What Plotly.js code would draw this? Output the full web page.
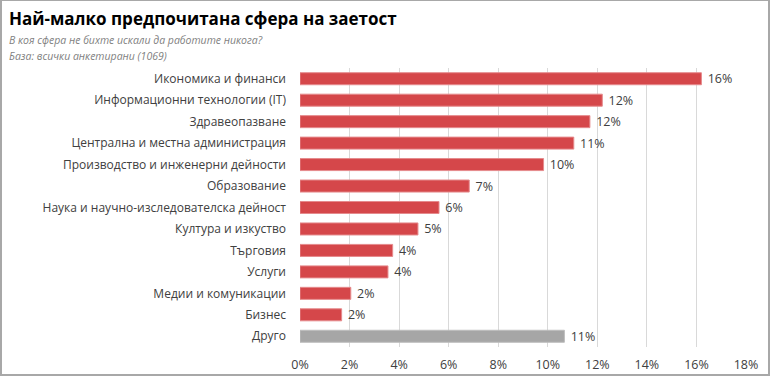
<!DOCTYPE html>
<html>
<head>
<meta charset="utf-8">
<script src="https://cdn.plot.ly/plotly-3.0.1.min.js"></script>
<style>
html,body{margin:0;padding:0;background:#fff;}
#wrap{position:relative;width:770px;height:376px;}
#chart{width:770px;height:376px;}
#frame{position:absolute;left:0;top:0;width:770px;height:376px;box-sizing:border-box;border:2px solid #a8a8a8;border-top-width:1px;pointer-events:none;}
</style>
</head>
<body>
<div id="wrap"><div id="chart"></div><div id="frame"></div></div>
<script>
const categories = [
  "Икономика и финанси",
  "Информационни технологии (IT)",
  "Здравеопазване",
  "Централна и местна администрация",
  "Производство и инженерни дейности",
  "Образование",
  "Наука и научно-изследователска дейност",
  "Култура и изкуство",
  "Търговия",
  "Услуги",
  "Медии и комуникации",
  "Бизнес",
  "Друго"
];
const values = [16.2, 12.2, 11.7, 11.05, 9.83, 6.83, 5.61, 4.76, 3.74, 3.55, 2.05, 1.68, 10.67];
const isOther = [false,false,false,false,false,false,false,false,false,false,false,false,true];
const xTickVals = [0,2,4,6,8,10,12,14,16,18];
const xTickText = ["0%","2%","4%","6%","8%","10%","12%","14%","16%","18%"];
const titleText = "Най-малко предпочитана сфера на заетост";
const subtitleLines = ["В коя сфера не бихте искали да работите никога?", "База: всички анкетирани (1069)"];

const W = 770, H = 376;
const M = {l: 300, r: 24, t: 68, b: 29};
const plotW = W - M.l - M.r, plotH = H - M.t - M.b;
const font = "Open Sans, Noto Sans, sans-serif";

const fill = isOther.map(o => o ? "#a6a6a6" : "#d5474a");
const edge = isOther.map(o => o ? "#bdbdbd" : "#e58a8c");

const trace = {
  type: "bar",
  orientation: "h",
  y: categories,
  x: values,
  marker: {color: fill, line: {color: edge, width: 1}},
  text: values.map(v => Math.round(v) + "%"),
  texttemplate: " %{text}",
  textposition: "outside",
  constraintext: "none",
  cliponaxis: false,
  textfont: {family: font, size: 12.5, color: "#404040"},
  hoverinfo: "skip"
};

const px2paperX = px => (px - M.l) / plotW;
const px2paperY = py => 1 - (py - M.t) / plotH;

const annotations = [{
  text: "<b>" + titleText + "</b>",
  xref: "paper", yref: "paper",
  x: px2paperX(7), xanchor: "left",
  y: px2paperY(18), yanchor: "middle",
  showarrow: false,
  font: {family: font, size: 17, color: "#000"}
}].concat(subtitleLines.map((t, i) => ({
  text: "<i>" + t + "</i>",
  xref: "paper", yref: "paper",
  x: px2paperX(7), xanchor: "left",
  y: px2paperY(40 + i * 16), yanchor: "middle",
  showarrow: false,
  font: {family: font, size: 10.5, color: "#7f7f7f"}
})));

const layout = {
  width: W, height: H,
  margin: M,
  paper_bgcolor: "#fff",
  plot_bgcolor: "#fff",
  showlegend: false,
  bargap: 0.44,
  font: {family: font, color: "#404040"},
  annotations: annotations,
  xaxis: {
    range: [0, 18],
    tickvals: xTickVals,
    ticktext: xTickText,
    showgrid: true,
    gridcolor: "#d9d9d9",
    gridwidth: 1,
    zeroline: false,
    showline: false,
    ticks: "",
    ticklabelstandoff: 8,
    tickfont: {family: font, size: 12.5, color: "#404040"},
    fixedrange: true
  },
  yaxis: {
    type: "category",
    autorange: "reversed",
    showgrid: false,
    zeroline: false,
    showline: false,
    ticks: "",
    ticklabelstandoff: 13,
    tickfont: {family: font, size: 12, color: "#404040"},
    fixedrange: true
  }
};

Plotly.newPlot("chart", [trace], layout, {displayModeBar: false, staticPlot: true});
</script>
</body>
</html>
